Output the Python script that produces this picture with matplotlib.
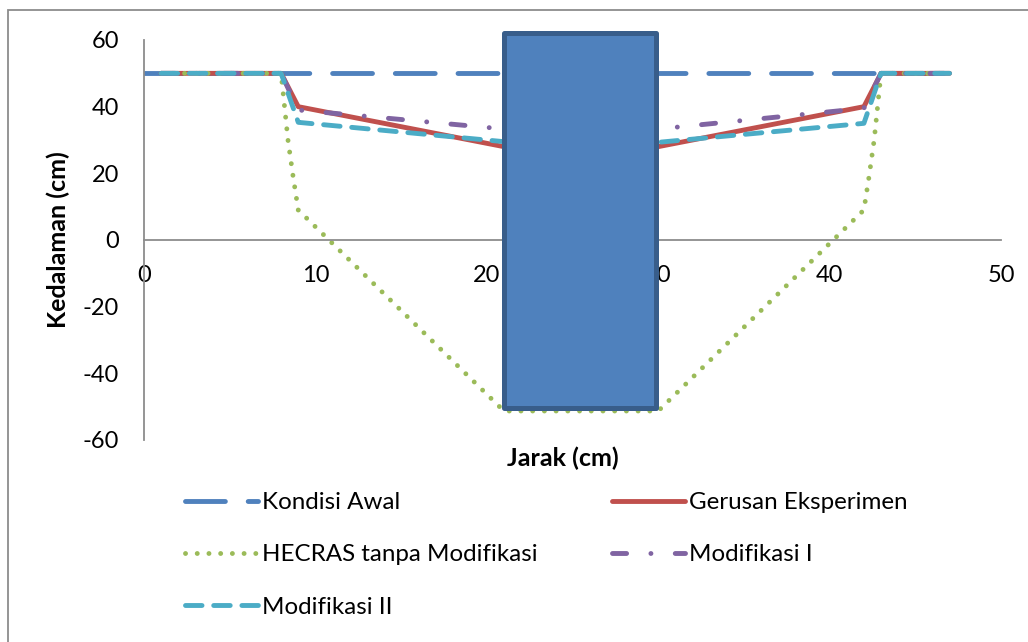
import matplotlib.pyplot as plt
from matplotlib.patches import Rectangle

plt.rcParams['font.family'] = ['Lato', 'DejaVu Sans']
plt.rcParams['axes.unicode_minus'] = False

# data (jarak in cm, kedalaman in cm)
x_awal = [0, 47]
y_awal = [50, 50]

x_eksp = [1, 8, 9, 21, 30, 42, 43, 47]
y_eksp = [50, 50, 40, 28, 28, 40, 50, 50]

x_hecras = [1, 8, 8.4, 8.7, 9, 21, 30, 42, 42.3, 42.6, 43, 47]
y_hecras = [50, 50, 30, 19, 9, -51.3, -51.3, 9, 19, 30, 50, 50]

x_mod1 = [1, 8, 9, 21, 30, 42, 43, 47]
y_mod1 = [50, 50, 39, 33.3, 33.3, 39.5, 50, 50]

x_mod2 = [1, 8, 9, 21, 30, 42, 43, 47]
y_mod2 = [50, 50, 35.3, 29.5, 29.3, 35, 50, 50]

# pilar (kotak biru di tengah)
pilar_x = [21, 29.9]
pilar_y = [-50.5, 62]

xticks = [0, 10, 20, 30, 40, 50]
yticks = [-60, -40, -20, 0, 20, 40, 60]

fig = plt.figure(figsize=(10.28, 6.42), dpi=100)
ax = fig.add_axes([144/1028, 1 - 440/642, 857/1028, 400/642])

lw = 3.5
l_awal, = ax.plot(x_awal, y_awal, color='#4F81BD', lw=lw, dashes=(8.2, 4.7),
                  dash_capstyle='round', label='Kondisi Awal')
l_eksp, = ax.plot(x_eksp, y_eksp, color='#C0504D', lw=lw, solid_capstyle='round',
                  label='Gerusan Eksperimen')
l_hec, = ax.plot(x_hecras, y_hecras, color='#9BBB59', lw=lw, dashes=(0.01, 2.4),
                 dash_capstyle='round', label='HECRAS tanpa Modifikasi')
l_m1, = ax.plot(x_mod1, y_mod1, color='#8064A2', lw=lw, dashes=(2.9, 5.0, 0.01, 5.0),
                dash_capstyle='round', label='Modifikasi I')
l_m2, = ax.plot(x_mod2, y_mod2, color='#4BACC6', lw=lw, dashes=(3.4, 2.4),
                dash_capstyle='round', label='Modifikasi II')

ax.add_patch(Rectangle((pilar_x[0], pilar_y[0]), pilar_x[1] - pilar_x[0],
                       pilar_y[1] - pilar_y[0], facecolor='#4F81BD',
                       edgecolor='#385D8A', lw=3.6, joinstyle='round',
                       zorder=5, clip_on=False))

ax.set_xlim(0, 50)
ax.set_ylim(-60, 60)
ax.set_xticks(xticks)
ax.set_yticks(yticks)
ax.spines['top'].set_visible(False)
ax.spines['right'].set_visible(False)
ax.spines['bottom'].set_position(('data', 0))
for s in ['left', 'bottom']:
    ax.spines[s].set_color('#8C8C8C')
    ax.spines[s].set_linewidth(1.3)
ax.tick_params(axis='y', length=0, pad=18, labelsize=17)
ax.tick_params(axis='x', length=0, pad=18, labelsize=17)

ax.text((563 - 144) / 857, -18 / 400, 'Jarak (cm)', transform=ax.transAxes,
        ha='center', va='center', fontsize=18, fontweight='bold')
ax.text(-(144 - 58) / 857, 0.5, 'Kedalaman (cm)', transform=ax.transAxes,
        ha='center', va='center', rotation=90, fontsize=18, fontweight='bold')

# urutan baris seperti di Excel: kolom kiri lalu kolom kanan
handles = [l_awal, l_hec, l_m2, l_eksp, l_m1]
fig.legend(handles=handles, labels=[h.get_label() for h in handles],
           loc='upper left', bbox_to_anchor=(185/1028, 1 - 492/642), ncol=2,
           frameon=False, fontsize=17.4, handlelength=3.0, handletextpad=0.17,
           columnspacing=3.1, labelspacing=1.3, borderaxespad=0, borderpad=0)

# garis tepi abu-abu di sekeliling gambar
fig.patches.append(Rectangle((8/1028, -0.1), 1.2, 1 - 10/642 + 0.1,
                             transform=fig.transFigure, fill=False,
                             edgecolor='#8C8C8C', lw=1.3))

fig.savefig('out.png', dpi=100)
